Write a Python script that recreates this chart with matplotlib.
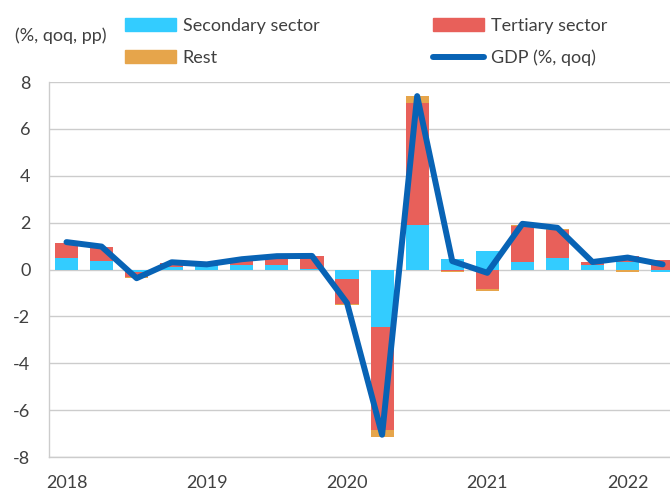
import numpy as np
import matplotlib.pyplot as plt
from matplotlib.lines import Line2D
from matplotlib.patches import Patch

plt.rcParams['font.family'] = ['Lato', 'DejaVu Sans']
plt.rcParams['axes.unicode_minus'] = False

quarters = ["2018Q1", "2018Q2", "2018Q3", "2018Q4",
            "2019Q1", "2019Q2", "2019Q3", "2019Q4",
            "2020Q1", "2020Q2", "2020Q3", "2020Q4",
            "2021Q1", "2021Q2", "2021Q3", "2021Q4",
            "2022Q1", "2022Q2"]
secondary = [0.48, 0.36, -0.10, 0.11, 0.15, 0.21, 0.21, 0.02, -0.42, -2.45,
             1.92, 0.45, 0.80, 0.34, 0.51, 0.21, 0.33, -0.12]
tertiary = [0.65, 0.58, -0.21, 0.17, 0.05, 0.15, 0.22, 0.55, -1.03, -4.40,
            5.19, -0.07, -0.82, 1.50, 1.16, 0.12, 0.24, 0.40]
rest = [0.02, 0.00, -0.06, 0.00, -0.03, 0.00, 0.00, 0.00, -0.05, -0.28,
        0.28, -0.04, -0.11, 0.08, 0.07, 0.00, -0.12, 0.00]
gdp = [1.17, 0.98, -0.37, 0.31, 0.22, 0.44, 0.57, 0.58, -1.43, -7.05,
       7.40, 0.36, -0.14, 1.95, 1.78, 0.32, 0.51, 0.22]
year_labels = ["2018", "2019", "2020", "2021", "2022"]

c_sec = "#33CCFF"
c_ter = "#E8605A"
c_rest = "#E6A54B"
c_gdp = "#0863B5"
grey = "#CCCCCC"
txt = "#404040"

fig = plt.figure(figsize=(6.7, 4.9), dpi=100)
ax = fig.add_axes([0.0724, 0.0673, 0.9276, 0.7653])

x = np.arange(len(quarters))
width = 0.66
pos = np.zeros(len(x))
neg = np.zeros(len(x))
for vals, color, label in [(secondary, c_sec, "Secondary sector"),
                           (tertiary, c_ter, "Tertiary sector"),
                           (rest, c_rest, "Rest")]:
    v = np.array(vals)
    bottom = np.where(v >= 0, pos, neg)
    ax.bar(x, v, width, bottom=bottom, color=color, label=label, zorder=2)
    pos += np.clip(v, 0, None)
    neg += np.clip(v, None, 0)

ax.plot(x, gdp, color=c_gdp, lw=4.3, solid_capstyle='round',
        solid_joinstyle='round', zorder=3, label="GDP (%, qoq)")

ax.set_xlim(-0.513, 17.21)
ax.set_ylim(-8, 8)
ax.set_yticks(range(-8, 9, 2))
ax.set_xticks(x[::4])
ax.set_xticklabels(year_labels)
ax.grid(axis='y', color=grey, lw=1.0)
ax.set_axisbelow(True)
for s in ['top', 'right']:
    ax.spines[s].set_visible(False)
for s in ['left', 'bottom']:
    ax.spines[s].set_color(grey)
    ax.spines[s].set_linewidth(1.0)
ax.tick_params(length=0, labelsize=13, colors=txt)
ax.tick_params(axis='y', pad=13)
ax.tick_params(axis='x', pad=13)

handles = [Patch(color=c_sec), Patch(color=c_rest), Patch(color=c_ter),
           Line2D([], [], color=c_gdp, lw=4.3, solid_capstyle='round')]
labels = ["Secondary sector", "Rest", "Tertiary sector", "GDP (%, qoq)"]
fig.legend(handles, labels, ncol=2, loc='upper left',
           bbox_to_anchor=(125 / 670, 1 - 18 / 490), frameon=False,
           fontsize=13, labelcolor=txt, borderpad=0, borderaxespad=0,
           handlelength=2.8, handletextpad=0.4, columnspacing=6.3,
           labelspacing=0.88)

fig.text(15 / 670, 1 - 36 / 490, "(%, qoq, pp)", fontsize=13, color=txt,
         va='center', ha='left')

fig.savefig("out.png", dpi=100)
